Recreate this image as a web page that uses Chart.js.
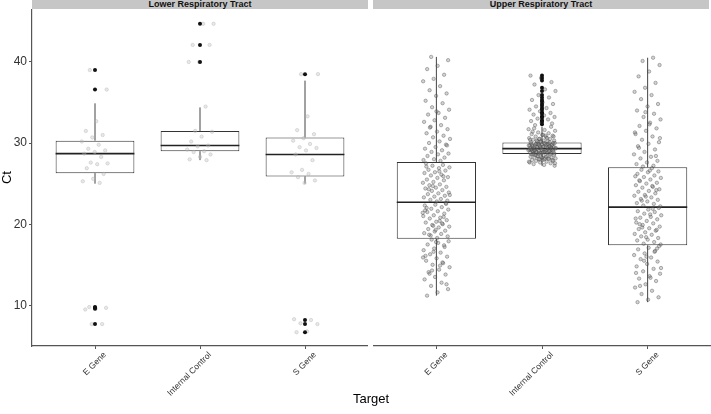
<!DOCTYPE html>
<html>
<head>
<meta charset="utf-8">
<script src="https://cdn.jsdelivr.net/npm/chart.js@4.4.1/dist/chart.umd.min.js"></script>
<style>
    body { margin: 0; background: #fff; font-family: "Liberation Sans", Arial, sans-serif; }
    #wrap { position: relative; width: 711px; height: 414px; overflow: hidden; }
    .strip { position: absolute; top: 0; height: 9px; background: #c6c6c6; font-size: 9px; font-weight: bold; line-height: 9px; text-align: center; color: #111; }
    canvas { position: absolute; top: 0; }
    #xtitle { position: absolute; left: 0; width: 742px; top: 391px; text-align: center; font-size: 13px; color: #000; }
</style>
</head>
<body>
<div id="wrap">
    <div class="strip" style="left:32px;width:336px;">Lower Respiratory Tract</div>
    <div class="strip" style="left:373px;width:336px;">Upper Respiratory Tract</div>
    <canvas id="lower" width="368" height="396" style="left:0;width:368px;height:396px;"></canvas>
    <canvas id="upper" width="338" height="396" style="left:373px;width:338px;height:396px;"></canvas>
    <div id="xtitle">Target</div>
</div>
<script>
const targets = ["E Gene", "Internal Control", "S Gene"];
const yTicks = [10, 20, 30, 40];

// Lower respiratory tract (box stats)
const lowerQ1 = [26.3, 29.0, 25.9];
const lowerMedian = [28.7, 29.7, 28.6];
const lowerQ3 = [30.3, 31.5, 30.7];
const lowerWhiskerLow = [25.0, 27.9, 25.0];
const lowerWhiskerHigh = [34.9, 34.4, 37.7];
const lowerOutliers = [
    [39.0, 36.6, 9.8, 9.7, 9.6, 7.7],
    [44.7, 42.1, 40.0],
    [38.5, 8.2, 7.7, 6.7],
];
const lowerPoints = [
    [39.0, 36.6, 32.7, 31.5, 31.0, 30.7, 30.2, 29.8, 29.3, 29.1, 28.9, 28.7, 28.3, 27.6, 27.5, 27.4, 26.9, 26.2, 25.6, 25.3, 25.1, 9.8, 9.7, 9.6, 9.5, 7.7, 7.7],
    [44.7, 44.7, 42.1, 42.1, 40.0, 40.0, 34.5, 31.5, 31.4, 30.8, 30.2, 29.7, 29.6, 29.2, 29.0, 28.9, 28.6, 28.3, 28.0, 27.9],
    [38.5, 38.5, 33.3, 31.6, 31.1, 30.6, 30.3, 29.9, 29.5, 29.4, 29.1, 28.6, 27.9, 26.7, 26.4, 26.2, 25.8, 25.4, 25.1, 8.3, 8.2, 7.8, 7.7, 6.8, 6.7],
];

// Upper respiratory tract
const upperQ1 = [18.2, 28.65, 17.4];
const upperMedian = [22.7, 29.3, 22.1];
const upperQ3 = [27.65, 30.05, 27.0];
const upperWhiskerLow = [11.2, 27.2, 10.4];
const upperWhiskerHigh = [40.6, 32.0, 40.5];
const upperOutliers = [
    [],
    [38.3, 38.0, 37.7, 36.8, 36.4, 35.9, 35.6, 35.3, 35.1, 34.8, 34.6, 34.3, 34.1, 33.8, 33.6, 33.3, 33.1, 32.8, 32.6, 32.3],
    [],
];
const upperPoints = [
    [40.6, 40.2, 39.5, 39.1, 38.4, 37.9, 37.6, 37.0, 36.5, 36.1, 35.8, 35.2, 34.9, 34.4, 34.1, 33.7, 33.5, 33.1, 32.8, 32.6, 32.2, 32.0, 31.7, 31.4, 31.2, 30.9, 30.7, 30.5, 30.2, 30.0, 29.8, 29.5, 29.3, 29.1, 28.9, 28.7, 28.6, 28.4, 28.2, 28.0, 27.9, 27.8, 31.9, 29.7, 33.9,
     27.5, 27.3, 27.2, 27.0, 26.9, 26.7, 26.6, 26.4, 26.3, 26.1, 26.0, 25.8, 25.7, 25.5, 25.4, 25.2, 25.1, 24.9, 24.8, 24.6, 24.5, 24.4, 24.2, 24.1, 23.9, 23.8, 23.7, 23.5, 23.4, 23.3, 23.1, 23.0, 22.9, 22.8, 27.1, 25.9, 24.7, 23.6, 26.5, 24.3,
     22.6, 22.4, 22.3, 22.1, 21.9, 21.8, 21.6, 21.5, 21.3, 21.1, 21.0, 20.8, 20.7, 20.5, 20.3, 20.2, 20.0, 19.9, 19.7, 19.6, 19.4, 19.2, 19.1, 18.9, 18.8, 18.6, 18.5, 18.3, 22.0, 20.9, 19.8, 21.4, 20.4, 18.7, 22.5, 19.3, 21.7, 20.1,
     18.1, 17.9, 17.7, 17.5, 17.2, 17.0, 16.8, 16.5, 16.3, 16.0, 15.8, 15.5, 15.2, 15.0, 14.7, 14.4, 14.1, 13.8, 13.5, 13.2, 12.8, 12.4, 12.0, 11.6, 11.2, 17.4, 16.6, 15.9, 14.9, 13.9, 12.6, 17.8, 16.1, 15.3, 14.3],
    [27.2, 27.3, 27.4, 27.5, 27.6, 27.6, 27.7, 27.8, 27.8, 27.9, 27.9, 28.0, 28.0, 28.1, 28.1, 28.2, 28.2, 28.3, 28.3, 28.4, 28.4, 28.5, 28.5, 28.6, 28.6, 28.0, 27.7, 28.3, 28.5, 27.9, 28.2, 28.6, 28.1, 28.4, 27.5, 28.0,
     28.7, 28.7, 28.8, 28.8, 28.8, 28.9, 28.9, 28.9, 29.0, 29.0, 29.0, 29.1, 29.1, 29.1, 29.2, 29.2, 29.2, 29.3, 29.3, 28.7, 28.9, 29.0, 29.1, 28.8, 29.2, 29.0, 28.9, 29.1, 28.8, 29.2, 29.0, 28.7, 29.3, 28.9, 29.1,
     29.4, 29.4, 29.4, 29.5, 29.5, 29.5, 29.6, 29.6, 29.6, 29.7, 29.7, 29.7, 29.8, 29.8, 29.8, 29.9, 29.9, 29.9, 30.0, 30.0, 29.4, 29.5, 29.6, 29.7, 29.8, 29.9, 30.0, 29.5, 29.7, 29.6, 29.8, 29.4, 29.9, 29.6, 29.7,
     30.1, 30.1, 30.2, 30.2, 30.3, 30.3, 30.4, 30.5, 30.5, 30.6, 30.7, 30.8, 30.9, 31.0, 31.1, 31.2, 31.3, 31.5, 31.6, 31.8, 32.0, 30.2, 30.4, 30.6, 30.3, 30.8, 31.0, 31.4, 30.1, 30.5, 31.7, 30.9,
     32.2, 32.4, 32.5, 32.7, 32.9, 33.0, 33.2, 33.4, 33.5, 33.7, 33.9, 34.1, 34.3, 34.5, 34.8, 35.0, 35.3, 35.6, 35.9, 36.4, 36.6, 37.2, 37.5, 38.0, 38.3],
    [40.5, 40.1, 39.6, 38.8, 38.2, 37.4, 36.8, 36.3, 35.9, 35.4, 34.8, 34.5, 34.0, 33.6, 33.2, 32.9, 32.5, 32.1, 31.8, 31.5, 31.1, 30.8, 30.4, 30.1, 29.9, 29.6, 29.2, 28.9, 28.6, 28.3, 28.1, 27.8, 27.6, 27.4, 27.2, 27.1, 30.6, 32.3, 29.4, 28.4, 33.8, 31.3,
     26.9, 26.7, 26.5, 26.4, 26.2, 26.0, 25.8, 25.7, 25.5, 25.3, 25.1, 25.0, 24.8, 24.6, 24.5, 24.3, 24.1, 24.0, 23.8, 23.6, 23.5, 23.3, 23.1, 23.0, 22.8, 22.6, 22.5, 22.3, 22.2, 26.6, 25.4, 24.2, 23.4, 25.9, 24.7, 22.9,
     22.0, 21.8, 21.6, 21.5, 21.3, 21.1, 20.9, 20.8, 20.6, 20.4, 20.2, 20.1, 19.9, 19.7, 19.5, 19.4, 19.2, 19.0, 18.8, 18.7, 18.5, 18.3, 18.1, 18.0, 17.8, 17.6, 17.5, 21.2, 20.0, 19.3, 18.4, 20.7, 21.9, 19.6,
     17.3, 17.1, 16.9, 16.7, 16.4, 16.2, 15.9, 15.7, 15.4, 15.1, 14.8, 14.5, 14.2, 13.9, 13.6, 13.3, 13.0, 12.6, 12.2, 11.8, 11.4, 11.0, 10.7, 10.4, 16.6, 15.5, 14.6, 13.4, 12.4, 17.0, 16.0, 14.0],
];

const BOX_HALF = 0.375;
const JITTER = 0.13;
const FONT = "'Liberation Sans', Arial, sans-serif";

// Deterministic horizontal spread for the jittered points (visual only)
function jitter(k) {
    const f = (k * 0.6180339887 + 0.31) % 1;
    return (f - 0.5) * 2 * JITTER;
}

/**
 * Builds one facet panel: boxes, whiskers, medians, jittered points and outliers.
 */
function makePanel(canvasId, q1, median, q3, wLow, wHigh, outliers, points, showY, pointStyle) {
    const ctx = document.getElementById(canvasId).getContext("2d");

    const boxData = targets.map((t, i) => ({ x: i + 1, y: [q1[i], q3[i]] }));
    const medianData = [];
    const whiskerData = [];
    targets.forEach((t, i) => {
        medianData.push({ x: i + 1 - BOX_HALF, y: median[i] }, { x: i + 1 + BOX_HALF, y: median[i] }, { x: i + 1, y: null });
        whiskerData.push({ x: i + 1, y: wLow[i] }, { x: i + 1, y: q1[i] }, { x: i + 1, y: null });
        whiskerData.push({ x: i + 1, y: q3[i] }, { x: i + 1, y: wHigh[i] }, { x: i + 1, y: null });
    });
    const pointData = [];
    let k = 0;
    points.forEach((list, i) => {
        list.forEach((v) => {
            pointData.push({ x: i + 1 + jitter(k++), y: v });
        });
    });
    const outlierData = [];
    outliers.forEach((list, i) => {
        list.forEach((v) => outlierData.push({ x: i + 1, y: v }));
    });

    new Chart(ctx, {
        type: "bar",
        data: {
            datasets: [
                {
                    type: "bar",
                    data: boxData,
                    backgroundColor: "#ffffff",
                    borderColor: "#333333",
                    borderWidth: 1,
                    borderSkipped: false,
                    barPercentage: 0.75,
                    categoryPercentage: 1,
                    order: 5,
                },
                {
                    type: "line",
                    data: whiskerData,
                    borderColor: "#444444",
                    borderWidth: 1,
                    pointRadius: 0,
                    spanGaps: false,
                    order: 4,
                },
                {
                    type: "line",
                    data: medianData,
                    borderColor: "#222222",
                    borderWidth: 1.6,
                    pointRadius: 0,
                    spanGaps: false,
                    order: 3,
                },
                {
                    type: "scatter",
                    data: pointData,
                    backgroundColor: pointStyle.fill,
                    borderColor: pointStyle.line,
                    borderWidth: 0.8,
                    pointRadius: 1.7,
                    order: 2,
                },
                {
                    type: "scatter",
                    data: outlierData,
                    backgroundColor: "#111111",
                    borderColor: "#111111",
                    borderWidth: 0,
                    pointRadius: 2,
                    order: 1,
                },
            ],
        },
        options: {
            responsive: false,
            animation: false,
            layout: { autoPadding: false, padding: { top: 9, left: 0, right: 0, bottom: 0 } },
            plugins: {
                legend: { display: false },
                tooltip: { enabled: false },
            },
            scales: {
                x: {
                    type: "linear",
                    min: 0.4,
                    max: 3.6,
                    offset: false,
                    afterBuildTicks: (axis) => {
                        axis.ticks = targets.map((t, i) => ({ value: i + 1 }));
                    },
                    afterFit: (axis) => {
                        // keep the plot area edge-to-edge; rotated labels may spill
                        axis.height = 50;
                        axis.paddingLeft = 0;
                        axis.paddingRight = 0;
                    },
                    grid: { offset: false, drawOnChartArea: false, drawTicks: true, tickLength: 3, color: "#555" },
                    border: { display: true, color: "#555", width: 1.2 },
                    ticks: {
                        autoSkip: false,
                        minRotation: 45,
                        maxRotation: 45,
                        padding: 1,
                        labelOffset: 10,
                        color: "#333",
                        font: { size: 8.5, family: FONT },
                        callback: (value) => targets[value - 1],
                    },
                },
                y: {
                    display: showY,
                    min: 5,
                    max: 46.5,
                    afterBuildTicks: (axis) => {
                        axis.ticks = yTicks.map((v) => ({ value: v }));
                    },
                    afterFit: (axis) => {
                        // hidden axis must not take any room
                        axis.width = showY ? 32 : 0;
                    },
                    grid: { drawOnChartArea: false, drawTicks: true, tickLength: 3, color: "#555" },
                    border: { display: true, color: "#555", width: 1.2 },
                    title: {
                        display: true,
                        text: "Ct",
                        color: "#000",
                        padding: 0,
                        font: { size: 13, family: FONT },
                    },
                    ticks: {
                        padding: 2,
                        color: "#333",
                        font: { size: 12, family: FONT },
                    },
                },
            },
        },
    });
}

makePanel("lower", lowerQ1, lowerMedian, lowerQ3, lowerWhiskerLow, lowerWhiskerHigh, lowerOutliers, lowerPoints, true,
    { fill: "rgba(190,190,190,0.35)", line: "rgba(170,170,170,0.45)" });
makePanel("upper", upperQ1, upperMedian, upperQ3, upperWhiskerLow, upperWhiskerHigh, upperOutliers, upperPoints, false,
    { fill: "rgba(130,130,130,0.35)", line: "rgba(60,60,60,0.45)" });
</script>
</body>
</html>
